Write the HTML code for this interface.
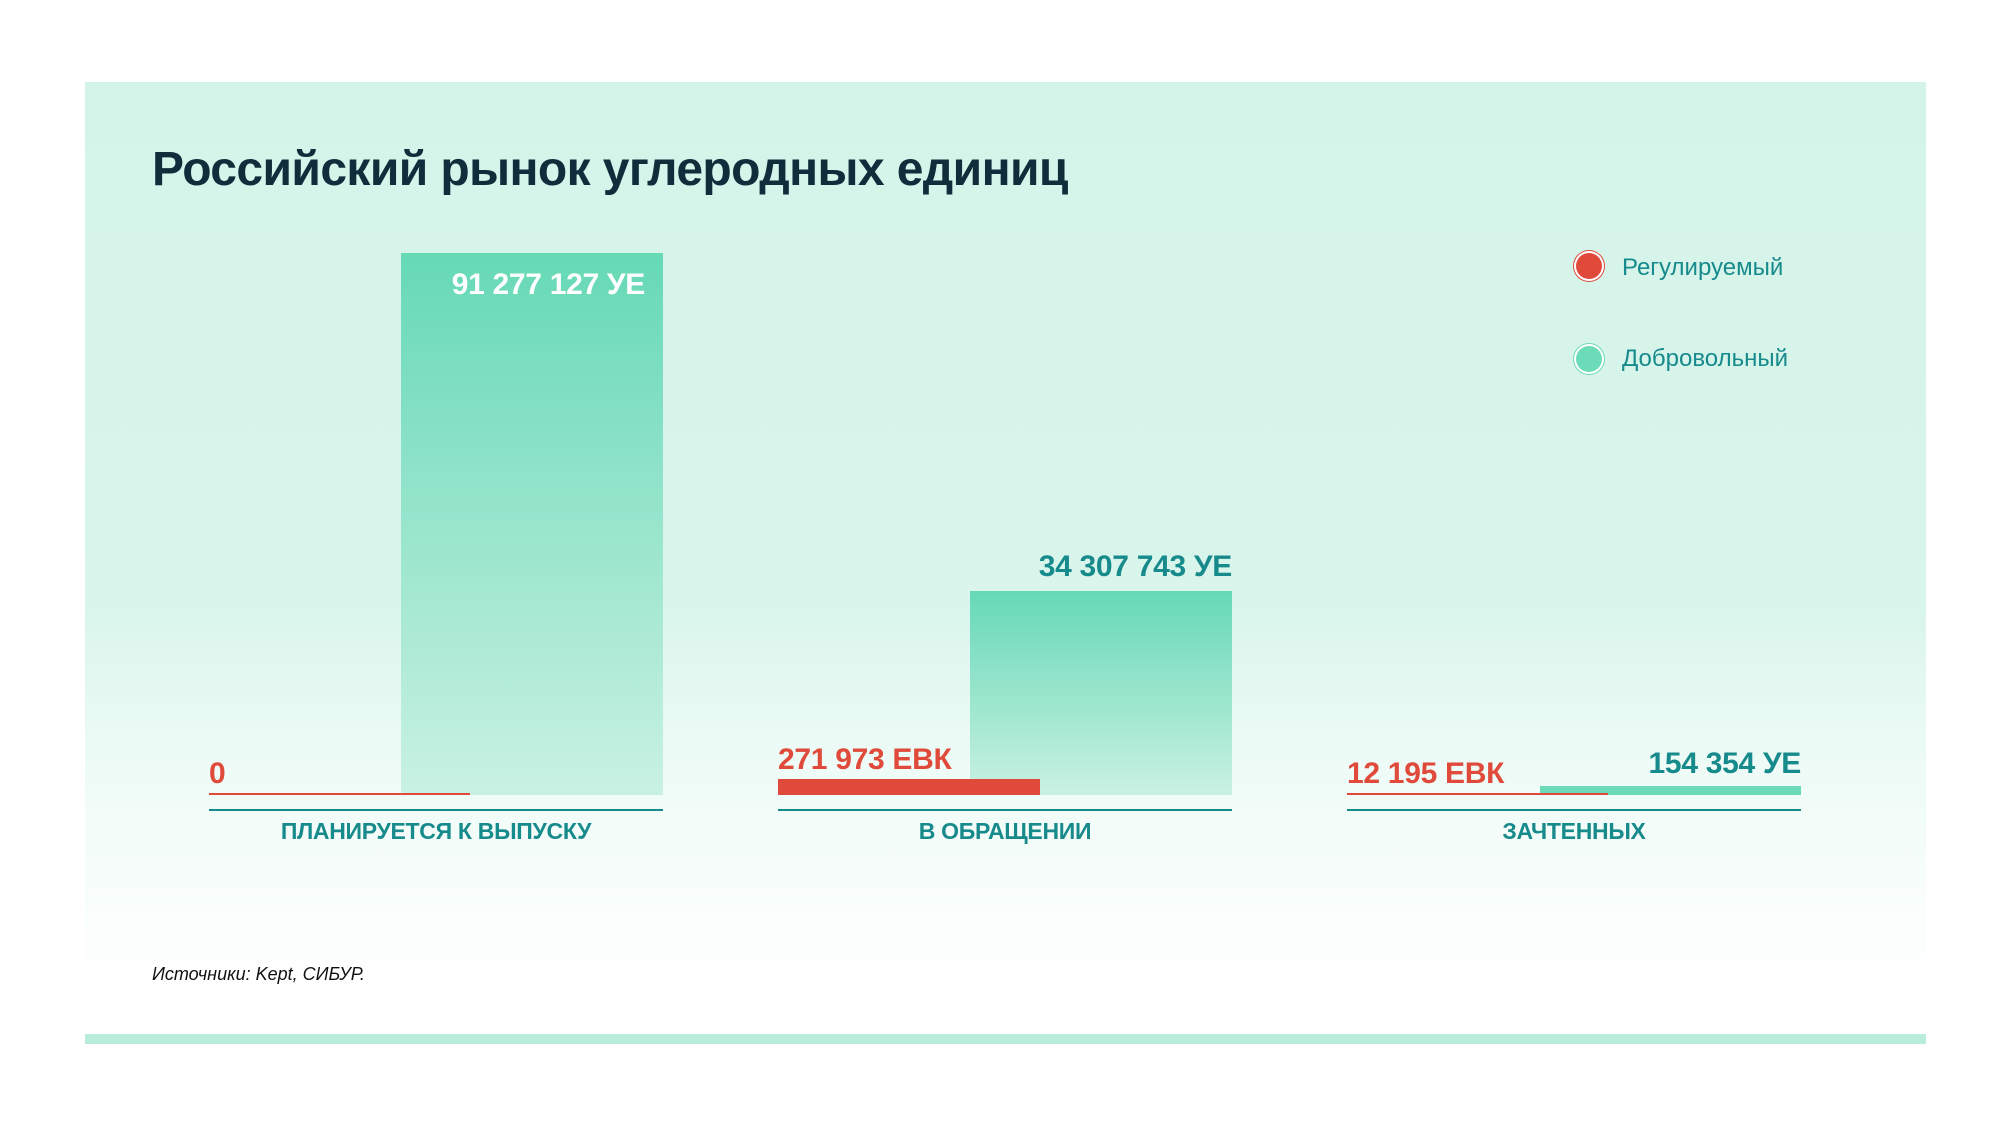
<!DOCTYPE html>
<html><head><meta charset="utf-8"><style>
body{margin:0;width:2000px;height:1125px;background:#fff;position:relative;overflow:hidden;font-family:"Liberation Sans",sans-serif}
.a{position:absolute}
.panel{left:85px;top:82px;width:1841px;height:951px;background:linear-gradient(#d4f4e9 0%,#d9f5ec 55%,#eefbf6 72%,#ffffff 95%)}
.bar{background:linear-gradient(#66d9b5,#c9f1e3)}
.t{font-weight:bold;white-space:nowrap;line-height:1}
.red{color:#e04a3a}.teal{color:#178a8c}
</style></head><body>
<div class="a panel"></div>
<div class="a" style="left:85px;top:1034px;width:1841px;height:10px;background:#b9eddb"></div>
<div class="a t" style="left:152px;top:146px;font-size:48px;letter-spacing:-0.6px;color:#0f2d3a">Российский рынок углеродных единиц</div>
<div class="a" style="left:1576px;top:253px;width:26px;height:26px;border-radius:50%;background:#e04a3a;box-shadow:0 0 0 2px #fff,0 0 0 3px #e04a3a"></div>
<div class="a teal" style="left:1622px;top:254px;font-size:24px">Регулируемый</div>
<div class="a" style="left:1576px;top:346px;width:26px;height:26px;border-radius:50%;background:#6cdbb8;box-shadow:0 0 0 2px #fff,0 0 0 3px #6cdbb8"></div>
<div class="a teal" style="left:1622px;top:345px;font-size:24px">Добровольный</div>
<div class="a bar" style="left:401px;top:253px;width:262px;height:542px"></div>
<div class="a t" style="right:1355px;top:270px;font-size:30px;letter-spacing:-0.3px;color:#fff">91 277 127 УЕ</div>
<div class="a" style="left:209px;top:793px;width:261px;height:2px;background:#e04a3a"></div>
<div class="a t red" style="left:209px;top:759px;font-size:30px">0</div>
<div class="a" style="left:209px;top:809px;width:454px;height:2px;background:#178a8c"></div>
<div class="a t teal" style="left:209px;top:820px;width:454px;text-align:center;font-size:23px;letter-spacing:-0.3px">ПЛАНИРУЕТСЯ К ВЫПУСКУ</div>
<div class="a bar" style="left:970px;top:591px;width:262px;height:204px"></div>
<div class="a t teal" style="right:768px;top:552px;font-size:30px;letter-spacing:-0.3px">34 307 743 УЕ</div>
<div class="a" style="left:778px;top:779px;width:262px;height:16px;background:#e04a3a"></div>
<div class="a t red" style="left:778px;top:745px;font-size:30px;letter-spacing:-0.3px">271 973 ЕВК</div>
<div class="a" style="left:778px;top:809px;width:454px;height:2px;background:#178a8c"></div>
<div class="a t teal" style="left:778px;top:820px;width:454px;text-align:center;font-size:23px;letter-spacing:-0.3px">В ОБРАЩЕНИИ</div>
<div class="a" style="left:1540px;top:786px;width:261px;height:9px;background:#6cdbb8"></div>
<div class="a t teal" style="right:199px;top:749px;font-size:30px;letter-spacing:-0.3px">154 354 УЕ</div>
<div class="a" style="left:1347px;top:793px;width:261px;height:2px;background:#e04a3a"></div>
<div class="a t red" style="left:1347px;top:759px;font-size:30px;letter-spacing:-0.3px">12 195 ЕВК</div>
<div class="a" style="left:1347px;top:809px;width:454px;height:2px;background:#178a8c"></div>
<div class="a t teal" style="left:1347px;top:820px;width:454px;text-align:center;font-size:23px;letter-spacing:-0.3px">ЗАЧТЕННЫХ</div>
<div class="a" style="left:152px;top:964px;font-size:18px;font-style:italic;color:#111">Источники: Kept, СИБУР.</div>
</body></html>
